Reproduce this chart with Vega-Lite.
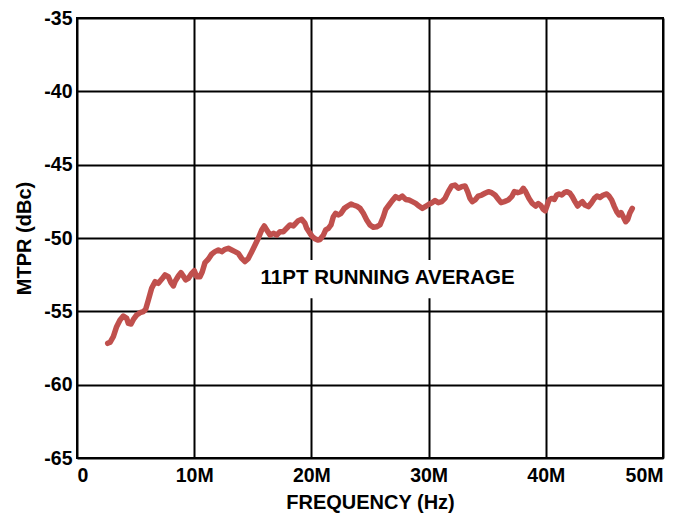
{
  "$schema": "https://vega.github.io/schema/vega-lite/v6.json",
  "width": 586,
  "height": 440,
  "autosize": {"type": "none"},
  "padding": {"left": 77, "top": 18, "right": 20, "bottom": 58},
  "background": "white",
  "config": {
    "view": {"stroke": "black", "strokeWidth": 2},
    "font": "Liberation Sans",
    "axis": {
      "grid": true, "gridColor": "black", "gridWidth": 2, "gridOpacity": 1,
      "domain": false, "ticks": false,
      "labelFont": "Liberation Sans", "labelFontSize": 19.5, "labelFontWeight": "bold", "labelColor": "black",
      "titleFont": "Liberation Sans", "titleFontSize": 20, "titleFontWeight": "bold", "titleColor": "black"
    }
  },
  "datasets": {
    "curve": [
      {"f":2.62,"v":-57.18},{"f":2.82,"v":-57.11},{"f":3.10,"v":-56.73},{"f":3.38,"v":-56.05},{"f":3.67,"v":-55.59},
      {"f":3.95,"v":-55.32},{"f":4.24,"v":-55.48},{"f":4.38,"v":-55.82},{"f":4.61,"v":-55.86},{"f":4.81,"v":-55.55},
      {"f":5.09,"v":-55.25},{"f":5.38,"v":-55.09},{"f":5.66,"v":-55.02},{"f":5.86,"v":-54.86},{"f":6.09,"v":-54.23},
      {"f":6.37,"v":-53.43},{"f":6.66,"v":-52.98},{"f":6.94,"v":-53.09},{"f":7.22,"v":-52.82},{"f":7.51,"v":-52.52},
      {"f":7.79,"v":-52.64},{"f":8.02,"v":-53.05},{"f":8.22,"v":-53.27},{"f":8.36,"v":-52.98},{"f":8.65,"v":-52.59},
      {"f":8.87,"v":-52.36},{"f":9.07,"v":-52.59},{"f":9.27,"v":-52.86},{"f":9.50,"v":-52.75},{"f":9.79,"v":-52.41},
      {"f":10.01,"v":-52.23},{"f":10.21,"v":-52.64},{"f":10.49,"v":-52.64},{"f":10.69,"v":-52.30},{"f":10.92,"v":-51.68},
      {"f":11.20,"v":-51.45},{"f":11.49,"v":-51.10},{"f":11.77,"v":-50.93},{"f":12.06,"v":-50.82},{"f":12.35,"v":-50.93},
      {"f":12.63,"v":-50.77},{"f":12.91,"v":-50.70},{"f":13.20,"v":-50.82},{"f":13.48,"v":-50.93},{"f":13.76,"v":-51.05},
      {"f":14.05,"v":-51.39},{"f":14.33,"v":-51.61},{"f":14.62,"v":-51.39},{"f":14.91,"v":-50.93},{"f":15.19,"v":-50.48},
      {"f":15.47,"v":-50.02},{"f":15.76,"v":-49.45},{"f":15.98,"v":-49.18},{"f":16.19,"v":-49.45},{"f":16.47,"v":-49.80},
      {"f":16.75,"v":-49.68},{"f":17.04,"v":-49.80},{"f":17.32,"v":-49.57},{"f":17.60,"v":-49.57},{"f":17.89,"v":-49.34},
      {"f":18.17,"v":-49.11},{"f":18.46,"v":-49.18},{"f":18.66,"v":-49.00},{"f":18.88,"v":-48.82},{"f":19.17,"v":-48.73},
      {"f":19.45,"v":-49.00},{"f":19.60,"v":-49.34},{"f":19.88,"v":-49.68},{"f":20.08,"v":-49.91},{"f":20.31,"v":-50.05},
      {"f":20.54,"v":-50.14},{"f":20.73,"v":-50.10},{"f":21.02,"v":-49.80},{"f":21.22,"v":-49.45},{"f":21.45,"v":-49.34},
      {"f":21.67,"v":-49.11},{"f":21.87,"v":-48.55},{"f":22.07,"v":-48.32},{"f":22.30,"v":-48.43},{"f":22.53,"v":-48.32},
      {"f":22.81,"v":-47.98},{"f":23.10,"v":-47.82},{"f":23.38,"v":-47.68},{"f":23.58,"v":-47.75},{"f":23.86,"v":-47.82},
      {"f":24.15,"v":-47.98},{"f":24.43,"v":-48.32},{"f":24.72,"v":-48.77},{"f":25.00,"v":-49.11},{"f":25.28,"v":-49.27},
      {"f":25.57,"v":-49.23},{"f":25.85,"v":-49.11},{"f":26.14,"v":-48.55},{"f":26.34,"v":-48.05},{"f":26.62,"v":-47.75},
      {"f":26.90,"v":-47.45},{"f":27.19,"v":-47.18},{"f":27.47,"v":-47.30},{"f":27.76,"v":-47.14},{"f":28.04,"v":-47.37},
      {"f":28.33,"v":-47.41},{"f":28.61,"v":-47.52},{"f":28.90,"v":-47.64},{"f":29.18,"v":-47.82},{"f":29.46,"v":-47.98},
      {"f":29.75,"v":-47.84},{"f":30.03,"v":-47.70},{"f":30.32,"v":-47.58},{"f":30.55,"v":-47.45},{"f":30.83,"v":-47.59},
      {"f":31.12,"v":-47.52},{"f":31.40,"v":-47.30},{"f":31.68,"v":-46.84},{"f":31.97,"v":-46.45},{"f":32.25,"v":-46.39},
      {"f":32.54,"v":-46.61},{"f":32.82,"v":-46.50},{"f":33.11,"v":-46.45},{"f":33.33,"v":-46.84},{"f":33.53,"v":-47.30},
      {"f":33.73,"v":-47.52},{"f":33.96,"v":-47.41},{"f":34.24,"v":-47.14},{"f":34.53,"v":-47.07},{"f":34.81,"v":-46.95},
      {"f":35.10,"v":-46.84},{"f":35.38,"v":-46.91},{"f":35.67,"v":-47.07},{"f":35.95,"v":-47.36},{"f":36.18,"v":-47.59},
      {"f":36.46,"v":-47.52},{"f":36.80,"v":-47.41},{"f":37.09,"v":-47.18},{"f":37.31,"v":-46.84},{"f":37.60,"v":-46.91},
      {"f":37.88,"v":-46.84},{"f":38.08,"v":-46.61},{"f":38.28,"v":-46.84},{"f":38.57,"v":-47.30},{"f":38.85,"v":-47.64},
      {"f":39.14,"v":-47.82},{"f":39.36,"v":-47.65},{"f":39.59,"v":-47.80},{"f":39.79,"v":-48.05},{"f":39.95,"v":-48.15},
      {"f":40.08,"v":-47.86},{"f":40.27,"v":-47.41},{"f":40.50,"v":-47.30},{"f":40.73,"v":-47.37},{"f":40.93,"v":-47.07},
      {"f":41.13,"v":-47.00},{"f":41.36,"v":-47.07},{"f":41.58,"v":-46.91},{"f":41.81,"v":-46.84},{"f":42.06,"v":-46.95},
      {"f":42.26,"v":-47.18},{"f":42.49,"v":-47.52},{"f":42.72,"v":-47.82},{"f":42.92,"v":-47.64},{"f":43.12,"v":-47.52},
      {"f":43.34,"v":-47.75},{"f":43.63,"v":-47.86},{"f":43.86,"v":-47.64},{"f":44.14,"v":-47.30},{"f":44.37,"v":-47.14},
      {"f":44.62,"v":-47.23},{"f":44.91,"v":-47.07},{"f":45.20,"v":-47.00},{"f":45.39,"v":-47.14},{"f":45.62,"v":-47.41},
      {"f":45.85,"v":-47.86},{"f":46.05,"v":-48.20},{"f":46.25,"v":-48.43},{"f":46.42,"v":-48.27},{"f":46.61,"v":-48.55},
      {"f":46.82,"v":-48.89},{"f":46.99,"v":-48.73},{"f":47.16,"v":-48.32},{"f":47.38,"v":-47.98}
    ],
    "note": [
      {"label": "11PT RUNNING AVERAGE", "f": 26.5, "v": -52.7, "f1": 15.2, "f2": 38.0, "v1": -51.5, "v2": -54.1}
    ]
  },
  "layer": [
    {
      "data": {"name": "note"},
      "mark": {"type": "rect", "color": "white"},
      "encoding": {
        "x": {"field": "f1", "type": "quantitative", "scale": {"domain": [0, 50], "nice": false},
              "axis": {"values": [0, 10, 20, 30, 40, 50], "labelExpr": "datum.value == 0 ? '0' : datum.value + 'M'", "title": "FREQUENCY (Hz)", "labelPadding": 8, "titlePadding": 8}},
        "x2": {"field": "f2"},
        "y": {"field": "v1", "type": "quantitative", "scale": {"domain": [-65, -35], "nice": false},
              "axis": {"values": [-65, -60, -55, -50, -45, -40, -35], "labelExpr": "'' + datum.value", "title": "MTPR (dBc)", "labelPadding": 5, "titlePadding": 9}},
        "y2": {"field": "v2"}
      }
    },
    {
      "data": {"name": "curve"},
      "mark": {"type": "line", "color": "#c0504d", "strokeWidth": 5.5, "strokeJoin": "round", "strokeCap": "round"},
      "encoding": {
        "x": {"field": "f", "type": "quantitative"},
        "y": {"field": "v", "type": "quantitative"}
      }
    },
    {
      "data": {"name": "note"},
      "mark": {"type": "text", "font": "Liberation Sans", "fontSize": 20.5, "fontWeight": "bold", "color": "black", "align": "center", "baseline": "middle"},
      "encoding": {
        "x": {"field": "f", "type": "quantitative"},
        "y": {"field": "v", "type": "quantitative"},
        "text": {"field": "label"}
      }
    }
  ]
}
